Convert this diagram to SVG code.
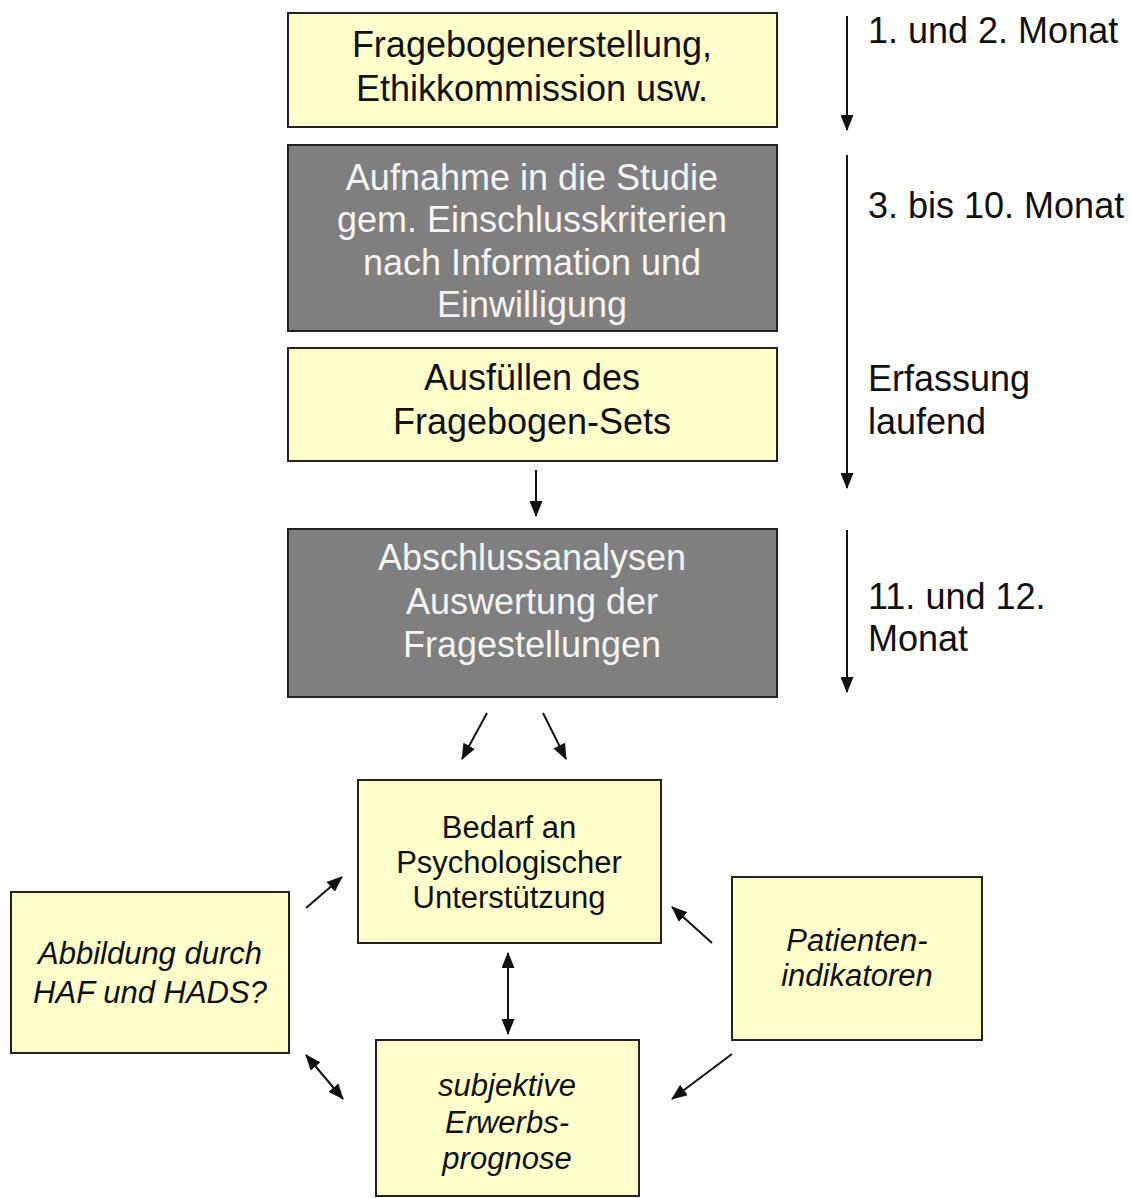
<svg xmlns="http://www.w3.org/2000/svg" width="1132" height="1198" viewBox="0 0 1132 1198">
<style>
  .light { fill: #FFFFCC; stroke: #222; stroke-width: 2; }
  .dark { fill: #7F7F7F; stroke: #222; stroke-width: 2; }
  .t { font-family: "Liberation Sans", Arial, sans-serif; text-anchor: middle; }
  .big { font-size: 36px; }
  .mid { font-size: 31px; }
  .black { fill: #111; }
  .white { fill: #F4F4F4; }
  .it { font-style: italic; }
  .lab { font-family: "Liberation Sans", Arial, sans-serif; font-size: 36px; fill: #111; }
  .conn { stroke: #111; stroke-width: 2; fill: none; }
</style>
<defs>
  <marker id="ah" markerWidth="16" markerHeight="13" refX="15" refY="6.5" orient="auto-start-reverse" markerUnits="userSpaceOnUse">
    <path d="M0,0 L16,6.5 L0,13 Z" fill="#111"/>
  </marker>
</defs>
<rect width="1132" height="1198" fill="#FFFFFF"/>

<g id="n1">
  <rect class="light" x="288" y="13" width="489" height="114"/>
  <text class="t big black" x="532" y="57">Fragebogenerstellung,</text>
  <text class="t big black" x="532" y="101">Ethikkommission usw.</text>
</g>
<g id="n2">
  <rect class="dark" x="288" y="145" width="489" height="186"/>
  <text class="t big white" x="532" y="190">Aufnahme in die Studie</text>
  <text class="t big white" x="532" y="232">gem. Einschlusskriterien</text>
  <text class="t big white" x="532" y="275">nach Information und</text>
  <text class="t big white" x="532" y="317">Einwilligung</text>
</g>
<g id="n3">
  <rect class="light" x="288" y="348" width="489" height="113"/>
  <text class="t big black" x="532" y="390">Ausfüllen des</text>
  <text class="t big black" x="532" y="434">Fragebogen-Sets</text>
</g>
<g id="n4">
  <rect class="dark" x="288" y="529" width="489" height="168"/>
  <text class="t big white" x="532" y="570">Abschlussanalysen</text>
  <text class="t big white" x="532" y="614">Auswertung der</text>
  <text class="t big white" x="532" y="657">Fragestellungen</text>
</g>
<g id="n5">
  <rect class="light" x="358" y="780" width="303" height="163"/>
  <text class="t mid black" x="509" y="838">Bedarf an</text>
  <text class="t mid black" x="509" y="873">Psychologischer</text>
  <text class="t mid black" x="509" y="908">Unterstützung</text>
</g>
<g id="n6">
  <rect class="light" x="11" y="892" width="278" height="161"/>
  <text class="t mid black it" x="150" y="964">Abbildung durch</text>
  <text class="t mid black it" x="150" y="1003">HAF und HADS?</text>
</g>
<g id="n7">
  <rect class="light" x="732" y="877" width="250" height="163"/>
  <text class="t mid black it" x="857" y="951">Patienten-</text>
  <text class="t mid black it" x="857" y="986">indikatoren</text>
</g>
<g id="n8">
  <rect class="light" x="376" y="1040" width="263" height="156"/>
  <text class="t mid black it" x="507" y="1096">subjektive</text>
  <text class="t mid black it" x="507" y="1133">Erwerbs-</text>
  <text class="t mid black it" x="507" y="1169">prognose</text>
</g>

<g id="labels">
  <text class="lab" x="868" y="43">1. und 2. Monat</text>
  <text class="lab" x="868" y="218">3. bis 10. Monat</text>
  <text class="lab" x="868" y="391">Erfassung</text>
  <text class="lab" x="868" y="434">laufend</text>
  <text class="lab" x="868" y="609">11. und 12.</text>
  <text class="lab" x="868" y="651">Monat</text>
</g>

<g id="connectors">
  <line class="conn" x1="847" y1="16" x2="847" y2="130" marker-end="url(#ah)"/>
  <line class="conn" x1="847" y1="155" x2="847" y2="488" marker-end="url(#ah)"/>
  <line class="conn" x1="847" y1="530" x2="847" y2="692" marker-end="url(#ah)"/>
  <line class="conn" x1="536" y1="470" x2="536" y2="516" marker-end="url(#ah)"/>
  <line class="conn" x1="487" y1="713" x2="462" y2="759" marker-end="url(#ah)"/>
  <line class="conn" x1="543" y1="713" x2="566" y2="759" marker-end="url(#ah)"/>
  <line class="conn" x1="306" y1="908" x2="342" y2="877" marker-end="url(#ah)"/>
  <line class="conn" x1="712" y1="943" x2="672" y2="907" marker-end="url(#ah)"/>
  <line class="conn" x1="732" y1="1054" x2="672" y2="1099" marker-end="url(#ah)"/>
  <line class="conn" x1="508" y1="953" x2="508" y2="1034" marker-start="url(#ah)" marker-end="url(#ah)"/>
  <line class="conn" x1="306" y1="1055" x2="343" y2="1099" marker-start="url(#ah)" marker-end="url(#ah)"/>
</g>
</svg>
